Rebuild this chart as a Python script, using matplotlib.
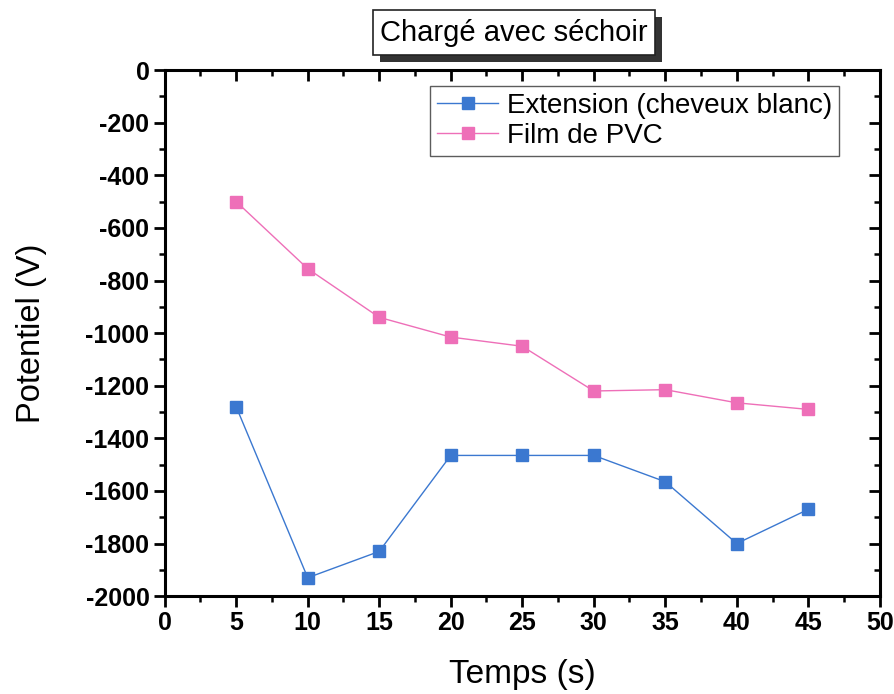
import matplotlib
matplotlib.use("Agg")
from matplotlib import pyplot as plt
from matplotlib.ticker import MultipleLocator

plt.rcParams['font.family'] = ['Liberation Sans', 'DejaVu Sans']
plt.rcParams['axes.unicode_minus'] = False

# temps (s)
temps = [5, 10, 15, 20, 25, 30, 35, 40, 45]
# potentiel (V)
extension = [-1280, -1930, -1830, -1465, -1465, -1465, -1565, -1800, -1670]
film_pvc = [-500, -755, -940, -1015, -1050, -1220, -1215, -1265, -1290]

blue = '#3b78d0'
pink = '#ee6fb8'

fig = plt.figure(figsize=(8.95, 6.94), dpi=100)
ax = fig.add_axes([0.184, 0.141, 0.799, 0.758])

ax.plot(temps, extension, color=blue, lw=1, marker='s', ms=8,
        mfc=blue, mec=blue, label='Extension (cheveux blanc)')
ax.plot(temps, film_pvc, color=pink, lw=1, marker='s', ms=8,
        mfc=pink, mec=pink, label='Film de PVC')

ax.set_xlim(0, 50)
ax.set_ylim(-2000, 0)
ax.xaxis.set_major_locator(MultipleLocator(5))
ax.xaxis.set_minor_locator(MultipleLocator(2.5))
ax.yaxis.set_major_locator(MultipleLocator(200))
ax.yaxis.set_minor_locator(MultipleLocator(100))

for s in ax.spines.values():
    s.set_linewidth(2.2)

ax.tick_params(which='major', direction='out', length=8, width=2,
               labelsize=18, pad=3)
ax.tick_params(which='minor', direction='out', length=4, width=1.8)
for lab in ax.get_xticklabels() + ax.get_yticklabels():
    lab.set_fontweight('bold')

# ticks miroir vers l'interieur en haut et a droite
axt = ax.secondary_xaxis('top')
axt.xaxis.set_major_locator(MultipleLocator(5))
axt.xaxis.set_minor_locator(MultipleLocator(2.5))
axt.tick_params(which='major', direction='in', length=8, width=2, labeltop=False)
axt.tick_params(which='minor', direction='in', length=4, width=1.8)
axr = ax.secondary_yaxis('right')
axr.yaxis.set_major_locator(MultipleLocator(200))
axr.yaxis.set_minor_locator(MultipleLocator(100))
axr.tick_params(which='major', direction='in', length=8, width=2, labelright=False)
axr.tick_params(which='minor', direction='in', length=4, width=1.8)

ax.set_xlabel('Temps (s)', fontsize=24, labelpad=17)
ax.set_ylabel('Potentiel (V)', fontsize=23.5, labelpad=28)

leg = ax.legend(loc='upper right', bbox_to_anchor=(0.943, 0.97), fontsize=20,
                frameon=True, fancybox=False, edgecolor='#333333',
                handlelength=2.2, handletextpad=0.3, borderpad=0.25,
                labelspacing=0.15, borderaxespad=0)
leg.get_frame().set_linewidth(1)

# titre dans une boite avec ombre
shadow_box = plt.Rectangle((0.4246, 0.9107), 0.315, 0.065, transform=fig.transFigure,
                           fc='#333333', ec='none', zorder=1)
title_box = plt.Rectangle((0.417, 0.921), 0.315, 0.065, transform=fig.transFigure,
                          fc='white', ec='#222222', lw=1.2, zorder=2)
fig.patches.extend([shadow_box, title_box])
fig.text(0.5745, 0.953, 'Chargé avec séchoir', fontsize=21, ha='center', va='center',
         zorder=3)

fig.savefig('out.png', dpi=100)
